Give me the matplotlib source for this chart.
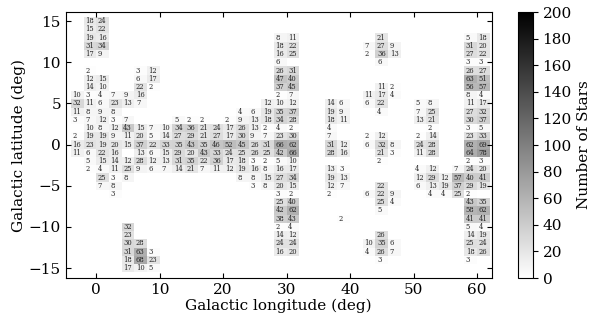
import numpy as np
import matplotlib
matplotlib.use('Agg')
import matplotlib.pyplot as plt

# Galactic latitude of each row of fields (deg)
lat_rows = [15, 14, 13, 12, 11, 10, 9, 8, 7, 6, 5, 4, 3, 2, 1, 0,
            -1, -2, -3, -4, -5, -6, -7, -8, -9, -10, -11, -12, -13, -14, -15]

# Left edge (deg) of the 2-deg longitude bin of each field in the row
lon_in_row = [
    [-2, 0],
    [-2, 0],
    [-2, 0, 28, 30, 44, 58, 60],
    [-2, 0, 28, 30, 42, 44, 46, 58, 60],
    [-2, 0, 28, 30, 42, 44, 46, 58, 60],
    [28, 44, 58, 60],
    [-2, 6, 8, 28, 30, 58, 60],
    [-2, 0, 6, 8, 28, 30, 58, 60],
    [-2, 0, 6, 8, 28, 30, 44, 46, 58, 60],
    [-4, -2, 0, 2, 4, 6, 28, 30, 42, 44, 46, 58, 60],
    [-4, -2, 0, 2, 4, 6, 26, 28, 30, 36, 38, 42, 44, 50, 52, 58, 60],
    [-4, -2, 0, 2, 22, 24, 26, 28, 30, 36, 38, 44, 50, 52, 58, 60],
    [-4, -2, 0, 2, 4, 12, 14, 16, 20, 22, 24, 26, 28, 30, 36, 38, 50, 52, 58, 60],
    [-2, 0, 2, 4, 6, 8, 10, 12, 14, 16, 18, 20, 22, 24, 26, 28, 30, 36, 52, 58, 60],
    [-4, -2, 0, 2, 4, 6, 8, 10, 12, 14, 16, 18, 20, 22, 24, 26, 28, 30, 36, 42, 44, 50, 52, 58, 60],
    [-4, -2, 0, 2, 4, 6, 8, 10, 12, 14, 16, 18, 20, 22, 24, 26, 28, 30, 36, 38, 42, 44, 46, 50, 52, 58, 60],
    [-4, -2, 0, 2, 6, 8, 10, 12, 14, 16, 18, 20, 22, 24, 26, 28, 30, 36, 38, 44, 46, 50, 52, 58, 60],
    [-2, 0, 2, 4, 6, 8, 10, 12, 14, 16, 18, 20, 22, 24, 26, 28, 30, 44, 58, 60],
    [-2, 0, 2, 4, 6, 8, 10, 12, 14, 16, 18, 20, 22, 24, 26, 28, 30, 36, 38, 50, 52, 56, 58, 60],
    [0, 2, 4, 22, 24, 26, 28, 30, 36, 38, 50, 52, 54, 56, 58, 60],
    [0, 2, 24, 26, 28, 30, 36, 38, 44, 50, 52, 54, 56, 58, 60],
    [2, 28, 30, 36, 42, 44, 46, 52, 54, 56, 58],
    [28, 30, 44, 46, 58, 60],
    [28, 30, 44, 58, 60],
    [28, 30, 38, 58, 60],
    [4, 28, 30, 58, 60],
    [4, 28, 30, 44, 58, 60],
    [4, 6, 28, 30, 42, 44, 46, 58, 60],
    [4, 6, 8, 28, 30, 42, 44, 46, 58, 60],
    [4, 6, 8, 44, 58],
    [4, 6, 8],
]

# Number of stars in each field
n_in_row = [
    [18, 24],
    [15, 22],
    [19, 16, 8, 11, 21, 5, 18],
    [31, 34, 18, 22, 7, 27, 9, 31, 20],
    [17, 9, 16, 25, 2, 36, 13, 27, 22],
    [6, 6, 3, 3],
    [2, 3, 12, 26, 31, 26, 27],
    [12, 15, 6, 17, 47, 40, 63, 51],
    [14, 10, 22, 2, 37, 45, 11, 2, 56, 57],
    [10, 3, 4, 7, 9, 16, 2, 7, 11, 17, 4, 8, 4],
    [32, 11, 6, 23, 13, 7, 12, 10, 12, 14, 6, 6, 22, 5, 8, 11, 17],
    [11, 8, 9, 8, 4, 6, 19, 35, 37, 19, 9, 4, 7, 25, 27, 32],
    [3, 7, 12, 3, 7, 5, 2, 2, 2, 9, 13, 18, 34, 28, 18, 11, 13, 21, 30, 37],
    [10, 8, 12, 43, 15, 7, 10, 34, 36, 21, 24, 17, 26, 13, 2, 4, 2, 4, 2, 3, 5],
    [2, 19, 19, 9, 11, 20, 5, 14, 27, 29, 21, 27, 17, 30, 9, 7, 23, 30, 7, 2, 12, 2, 14, 23, 33],
    [16, 23, 19, 20, 15, 37, 22, 33, 35, 43, 35, 46, 52, 45, 26, 31, 66, 62, 31, 12, 6, 32, 8, 24, 28, 62, 69],
    [11, 6, 22, 16, 13, 6, 15, 29, 20, 43, 33, 24, 25, 26, 25, 42, 66, 28, 16, 21, 3, 11, 28, 64, 78],
    [5, 15, 14, 12, 28, 12, 13, 31, 35, 22, 36, 17, 18, 3, 2, 5, 10, 2, 2, 3],
    [2, 4, 11, 25, 9, 6, 7, 14, 21, 7, 11, 12, 19, 16, 8, 16, 17, 13, 3, 4, 12, 7, 24, 20],
    [25, 3, 8, 8, 8, 15, 27, 34, 19, 13, 12, 29, 12, 57, 40, 41],
    [7, 8, 3, 8, 20, 15, 12, 7, 22, 6, 13, 19, 37, 29, 19],
    [3, 3, 2, 2, 6, 22, 9, 4, 4, 25, 2],
    [25, 40, 25, 4, 43, 35],
    [42, 62, 5, 58, 62],
    [38, 43, 2, 41, 41],
    [32, 2, 4, 5, 4],
    [23, 14, 12, 26, 14, 19],
    [30, 28, 24, 24, 10, 35, 6, 25, 24],
    [31, 63, 3, 16, 20, 4, 26, 7, 18, 26],
    [18, 68, 23, 3, 3],
    [17, 10, 5],
]

x_ticks = [0, 10, 20, 30, 40, 50, 60]
y_ticks = [-15, -10, -5, 0, 5, 10, 15]
cbar_ticks = list(range(0, 201, 20))

lon = np.concatenate([np.array(r, float) for r in lon_in_row])
lat = np.concatenate([np.full(len(r), la, float) for r, la in zip(lon_in_row, lat_rows)])
nst = np.concatenate([np.array(r, float) for r in n_in_row])

lon_edges = np.arange(-4, 63, 2)
lat_edges = np.arange(-16.5, 17.0, 1.0)
grid, _, _ = np.histogram2d(lon + 1.0, lat, bins=[lon_edges, lat_edges], weights=nst)
grid = np.ma.masked_equal(grid.T, 0)

fig = plt.figure(figsize=(5.98, 3.17), dpi=100)
serif = 'DejaVu Serif'
ax = fig.add_axes([0.110, 0.123, 0.712, 0.839])
mesh = ax.pcolormesh(lon_edges, lat_edges, grid, cmap='gray_r', vmin=0, vmax=200)

for lo, la, c in zip(lon, lat, nst):
    ax.text(lo + 0.25, la, '%d' % c, fontsize=4.9, ha='left', va='center',
            family=serif, color='#222222')

ax.set_xlim(-4.8, 62.3)
ax.set_ylim(-16.2, 16.1)
ax.set_xticks(x_ticks)
ax.set_yticks(y_ticks)
ax.tick_params(direction='in', top=True, right=True, labelsize=11)
for lab in ax.get_xticklabels() + ax.get_yticklabels():
    lab.set_family(serif)
ax.set_xlabel('Galactic longitude (deg)', fontsize=11, family=serif, labelpad=1)
ax.set_ylabel('Galactic latitude (deg)', fontsize=11, family=serif, labelpad=2)

cax = fig.add_axes([0.866, 0.123, 0.025, 0.839])
cb = fig.colorbar(mesh, cax=cax, ticks=cbar_ticks)
cb.ax.tick_params(labelsize=11)
for lab in cb.ax.get_yticklabels():
    lab.set_family(serif)
cb.set_label('Number of Stars', fontsize=11, family=serif)

fig.savefig('out.png', dpi=100)
